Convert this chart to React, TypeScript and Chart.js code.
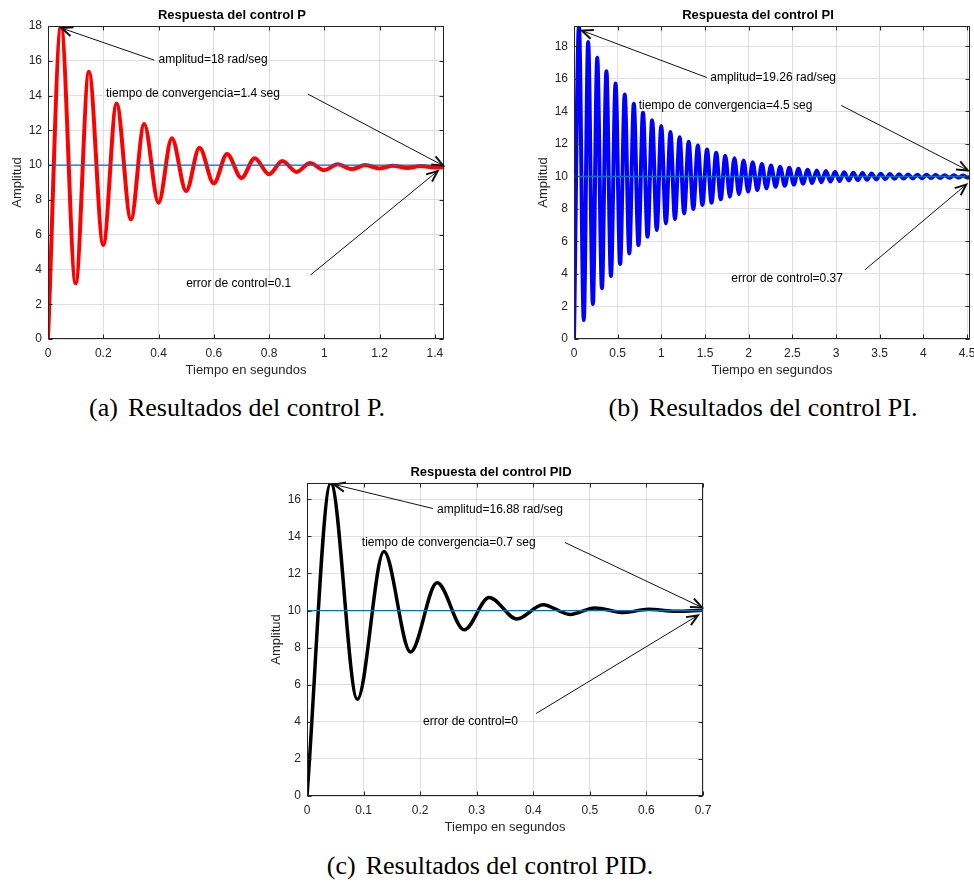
import React, { useEffect, useRef } from "react";
import { Chart, registerables } from "chart.js";
Chart.register(...registerables);

const SANS = '"Liberation Sans", Arial, Helvetica, sans-serif';
const SERIF = '"Liberation Serif", "Times New Roman", serif';

// Setpoint level drawn as reference line in every plot
const setpoint = 10;

// ---------- (a) P control ----------
const pXTicks = [0, 0.2, 0.4, 0.6, 0.8, 1, 1.2, 1.4];
const pYTicks = [0, 2, 4, 6, 8, 10, 12, 14, 16, 18];
const pXMax = 1.433;
const pYMax = 18;
const pStart = [0, 0];
const pPeakTimes = [0.047, 0.148, 0.248, 0.348, 0.448, 0.548, 0.648, 0.748, 0.848, 0.948, 1.048, 1.148, 1.248, 1.348];
const pPeaks = [18, 15.37, 13.55, 12.36, 11.54, 11.0, 10.64, 10.4, 10.23, 10.12, 10.05, 10.0, 9.97, 9.95];
const pTroughTimes = [0.1, 0.2, 0.3, 0.4, 0.5, 0.6, 0.7, 0.8, 0.9, 1.0, 1.1, 1.2, 1.3, 1.4];
const pTroughs = [3.2, 5.4, 6.88, 7.84, 8.51, 8.95, 9.26, 9.47, 9.61, 9.71, 9.77, 9.81, 9.84, 9.86];
const pEnd = [1.433, 9.88];

// ---------- (b) PI control ----------
const piXTicks = [0, 0.5, 1, 1.5, 2, 2.5, 3, 3.5, 4, 4.5];
const piYTicks = [0, 2, 4, 6, 8, 10, 12, 14, 16, 18];
const piXMax = 4.534;
const piYMax = 19.26;
const piStart = [0, 0];
const piPeakTimes = [0.057, 0.162, 0.266, 0.371, 0.476, 0.581, 0.685, 0.79, 0.895, 0.999, 1.104, 1.209, 1.313, 1.418, 1.523, 1.628, 1.732, 1.837, 1.942, 2.046, 2.151, 2.256, 2.36, 2.465, 2.57, 2.675, 2.779, 2.884, 2.989, 3.093, 3.198, 3.303, 3.407, 3.512, 3.617, 3.722, 3.826, 3.931, 4.036, 4.14, 4.245, 4.35, 4.454];
const piPeaks = [19.26, 18.27, 17.3, 16.48, 15.72, 15.04, 14.47, 13.92, 13.46, 13.1, 12.73, 12.42, 12.14, 11.9, 11.66, 11.46, 11.28, 11.12, 10.99, 10.87, 10.77, 10.68, 10.6, 10.53, 10.47, 10.42, 10.37, 10.33, 10.29, 10.26, 10.23, 10.21, 10.19, 10.17, 10.15, 10.13, 10.12, 10.11, 10.1, 10.09, 10.08, 10.07, 10.06];
const piTroughTimes = [0.112, 0.216, 0.32, 0.423, 0.528, 0.633, 0.738, 0.842, 0.947, 1.052, 1.156, 1.261, 1.366, 1.47, 1.575, 1.68, 1.785, 1.889, 1.994, 2.099, 2.203, 2.308, 2.413, 2.517, 2.622, 2.727, 2.832, 2.936, 3.041, 3.146, 3.25, 3.355, 3.46, 3.565, 3.669, 3.774, 3.879, 3.983, 4.088, 4.193, 4.297, 4.402, 4.507];
const piTroughs = [1.17, 2.15, 3.12, 3.88, 4.62, 5.27, 5.78, 6.3, 6.7, 7.12, 7.38, 7.73, 8.0, 8.25, 8.39, 8.6, 8.76, 8.92, 9.07, 9.17, 9.27, 9.37, 9.43, 9.5, 9.56, 9.6, 9.65, 9.69, 9.72, 9.75, 9.78, 9.8, 9.82, 9.84, 9.86, 9.87, 9.88, 9.89, 9.9, 9.91, 9.92, 9.93, 9.93];
const piEnd = [4.534, 9.98];

// ---------- (c) PID control ----------
const pidXTicks = [0, 0.1, 0.2, 0.3, 0.4, 0.5, 0.6, 0.7];
const pidYTicks = [0, 2, 4, 6, 8, 10, 12, 14, 16];
const pidXMax = 0.7;
const pidYMax = 16.88;
const pidStart = [0, 0];
const pidPeakTimes = [0.042, 0.136, 0.23, 0.322, 0.417, 0.509, 0.603];
const pidPeaks = [16.88, 13.18, 11.5, 10.71, 10.32, 10.14, 10.07];
const pidTroughTimes = [0.089, 0.183, 0.278, 0.371, 0.465, 0.56, 0.652];
const pidTroughs = [5.22, 7.77, 8.96, 9.55, 9.79, 9.9, 9.96];
const pidEnd = [0.7, 10.02];

// Annotation texts (anchor positions in data units)
const pNotes = [
  { text: "amplitud=18 rad/seg", at: [0.4, 16.04], from: [0.384, 16.04], to: [0.049, 17.88] },
  { text: "tiempo de convergencia=1.4 seg", at: [0.21, 14.09], from: [0.94, 14.09], to: [1.43, 9.97] },
  { text: "error de control=0.1", at: [0.5, 3.16], from: [0.95, 3.68], to: [1.41, 9.66] },
];
const piNotes = [
  { text: "amplitud=19.26 rad/seg", at: [1.56, 16.09], from: [1.52, 16.09], to: [0.09, 18.98] },
  { text: "tiempo de convergencia=4.5 seg", at: [0.74, 14.37], from: [3.06, 14.37], to: [4.51, 10.37] },
  { text: "error de control=0.37", at: [1.8, 3.69], from: [3.33, 4.25], to: [4.49, 9.5] },
];
const pidNotes = [
  { text: "amplitud=16.88 rad/seg", at: [0.23, 15.45], from: [0.223, 15.5], to: [0.048, 16.8] },
  { text: "tiempo de convergencia=0.7 seg", at: [0.097, 13.67], from: [0.456, 13.67], to: [0.698, 10.17] },
  { text: "error de control=0", at: [0.205, 4.02], from: [0.405, 4.45], to: [0.691, 9.74] },
];

function buildSeries(start, pt, pv, tt, tv, end) {
  const pts = [{ x: start[0], y: start[1] }];
  pt.forEach((t, i) => pts.push({ x: t, y: pv[i] }));
  tt.forEach((t, i) => pts.push({ x: t, y: tv[i] }));
  pts.push({ x: end[0], y: end[1] });
  return pts.sort((a, b) => a.x - b.x);
}

const fmt = (v) => String(+Number(v).toFixed(2));

function drawArrow(ctx, x1, y1, x2, y2) {
  ctx.strokeStyle = "#111";
  ctx.beginPath();
  ctx.moveTo(x1, y1);
  ctx.lineTo(x2, y2);
  ctx.lineWidth = 1;
  ctx.stroke();
  const ang = Math.atan2(y2 - y1, x2 - x1);
  const L = 12;
  const h = 0.4;
  ctx.beginPath();
  ctx.moveTo(x2 - L * Math.cos(ang - h), y2 - L * Math.sin(ang - h));
  ctx.lineTo(x2, y2);
  ctx.lineTo(x2 - L * Math.cos(ang + h), y2 - L * Math.sin(ang + h));
  ctx.lineWidth = 2;
  ctx.lineJoin = "miter";
  ctx.stroke();
}

const framePlugin = {
  id: "frame",
  afterDraw(chart, _args, opts) {
    const { ctx, chartArea: a, scales } = chart;
    const xs = scales.x;
    const ys = scales.y;
    ctx.save();
    // box
    ctx.strokeStyle = "#262626";
    ctx.lineWidth = 1;
    const L = Math.round(a.left) + 0.5, R = Math.round(a.right) - 0.5;
    const T = Math.round(a.top) + 0.5, B = Math.round(a.bottom) - 0.5;
    ctx.strokeRect(L, T, R - L, B - T);
    // inner ticks
    ctx.beginPath();
    opts.xTicks.forEach((v) => {
      const px = Math.round(xs.getPixelForValue(v)) + 0.5;
      ctx.moveTo(px, B); ctx.lineTo(px, B - 4);
      ctx.moveTo(px, T); ctx.lineTo(px, T + 4);
    });
    opts.yTicks.forEach((v) => {
      const py = Math.round(ys.getPixelForValue(v)) + 0.5;
      ctx.moveTo(L, py); ctx.lineTo(L + 4, py);
      ctx.moveTo(R, py); ctx.lineTo(R - 4, py);
    });
    ctx.stroke();
    // title
    ctx.fillStyle = "#000";
    ctx.font = `bold 13px ${SANS}`;
    ctx.textAlign = "center";
    ctx.textBaseline = "middle";
    ctx.fillText(opts.title, (a.left + a.right) / 2 - 14, a.top - 11);
    // axis titles
    ctx.fillStyle = "#262626";
    ctx.font = `13px ${SANS}`;
    ctx.fillText("Tiempo en segundos", (a.left + a.right) / 2, a.bottom + 31);
    ctx.save();
    ctx.translate(a.left - 31, (a.top + a.bottom) / 2);
    ctx.rotate(-Math.PI / 2);
    ctx.fillText("Amplitud", 0, 0);
    ctx.restore();
    // annotations
    ctx.fillStyle = "#000";
    ctx.font = `12px ${SANS}`;
    ctx.textAlign = "left";
    opts.notes.forEach((n) => {
      ctx.fillText(n.text, xs.getPixelForValue(n.at[0]), ys.getPixelForValue(n.at[1]));
      drawArrow(
        ctx,
        xs.getPixelForValue(n.from[0]), ys.getPixelForValue(n.from[1]),
        xs.getPixelForValue(n.to[0]), ys.getPixelForValue(n.to[1])
      );
    });
    ctx.restore();
  },
};

function Panel({ left, top, width, height, yAxisWidth, padRight, color, lineWidth, data, xMax, yMax, xTicks, yTicks, title, notes }) {
  const ref = useRef(null);
  useEffect(() => {
    const chart = new Chart(ref.current, {
      type: "line",
      data: {
        datasets: [
          {
            data: [{ x: 0, y: setpoint }, { x: xMax, y: setpoint }],
            borderColor: "#0072BD",
            borderWidth: 1.3,
            pointRadius: 0,
            order: 0,
          },
          {
            data,
            borderColor: color,
            borderWidth: lineWidth,
            pointRadius: 0,
            cubicInterpolationMode: "monotone",
            borderCapStyle: "round",
            borderJoinStyle: "round",
            order: 1,
          },
        ],
      },
      options: {
        animation: false,
        responsive: false,
        devicePixelRatio: 1,
        layout: { padding: { left: 0, top: 26, right: padRight, bottom: 0 } },
        plugins: {
          legend: { display: false },
          tooltip: { enabled: false },
          title: { display: false },
          frame: { title, notes, xTicks, yTicks },
        },
        scales: {
          x: {
            type: "linear",
            min: 0,
            max: xMax,
            afterBuildTicks: (s) => { s.ticks = xTicks.map((v) => ({ value: v })); },
            afterFit: (s) => { s.height = 46; s.paddingLeft = 0; s.paddingRight = 0; },
            grid: { color: "#dfdfdf", drawTicks: false },
            border: { display: false },
            ticks: {
              padding: 7,
              color: "#262626",
              font: { family: SANS, size: 12 },
              maxRotation: 0,
              autoSkip: false,
              callback: (v) => fmt(v),
            },
          },
          y: {
            type: "linear",
            min: 0,
            max: yMax,
            afterBuildTicks: (s) => { s.ticks = yTicks.map((v) => ({ value: v })); },
            afterFit: (s) => { s.width = yAxisWidth; s.paddingTop = 0; s.paddingBottom = 0; },
            grid: { color: "#dfdfdf", drawTicks: false },
            border: { display: false },
            ticks: {
              padding: 6,
              color: "#262626",
              font: { family: SANS, size: 12 },
              autoSkip: false,
              callback: (v) => fmt(v),
            },
          },
        },
      },
      plugins: [framePlugin],
    });
    return () => chart.destroy();
  }, []);
  return (
    <canvas
      ref={ref}
      width={width}
      height={height}
      style={{ position: "absolute", left, top, width, height }}
    />
  );
}

function Caption({ label, text, cx, cy }) {
  return (
    <div
      style={{
        position: "absolute",
        left: cx,
        top: cy,
        transform: "translate(-50%, -50%)",
        fontFamily: SERIF,
        fontSize: 26,
        color: "#000",
        whiteSpace: "nowrap",
        lineHeight: 1,
      }}
    >
      <span>{label}</span>
      <span style={{ marginLeft: 10 }}>{text}</span>
    </div>
  );
}

export default function App() {
  const pData = buildSeries(pStart, pPeakTimes, pPeaks, pTroughTimes, pTroughs, pEnd);
  const piData = buildSeries(piStart, piPeakTimes, piPeaks, piTroughTimes, piTroughs, piEnd);
  const pidData = buildSeries(pidStart, pidPeakTimes, pidPeaks, pidTroughTimes, pidTroughs, pidEnd);
  return (
    <div style={{ position: "absolute", left: 0, top: 0, width: 974, height: 882, background: "#fff", overflow: "hidden" }}>
      <Panel left={0} top={0} width={470} height={385} yAxisWidth={48} padRight={26}
        color="#ff0000" lineWidth={4} data={pData} xMax={pXMax} yMax={pYMax}
        xTicks={pXTicks} yTicks={pYTicks} title="Respuesta del control P" notes={pNotes} />
      <Panel left={500} top={0} width={474} height={385} yAxisWidth={74} padRight={4}
        color="#0000ff" lineWidth={4} data={piData} xMax={piXMax} yMax={piYMax}
        xTicks={piXTicks} yTicks={piYTicks} title="Respuesta del control PI" notes={piNotes} />
      <Panel left={260} top={457} width={460} height={385} yAxisWidth={47} padRight={17}
        color="#000000" lineWidth={3.5} data={pidData} xMax={pidXMax} yMax={pidYMax}
        xTicks={pidXTicks} yTicks={pidYTicks} title="Respuesta del control PID" notes={pidNotes} />
      <Caption label="(a)" text="Resultados del control P." cx={237} cy={408} />
      <Caption label="(b)" text="Resultados del control PI." cx={763} cy={408} />
      <Caption label="(c)" text="Resultados del control PID." cx={490} cy={866} />
    </div>
  );
}
